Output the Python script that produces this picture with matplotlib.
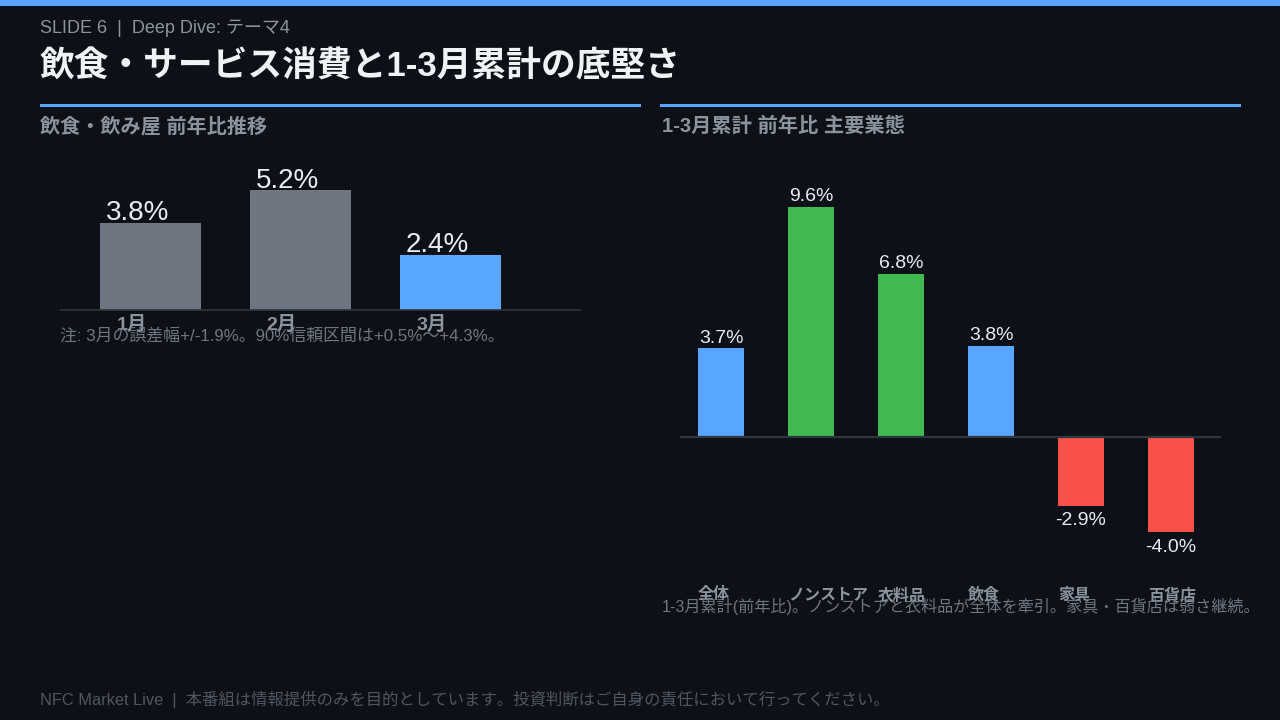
import matplotlib
matplotlib.use("Agg")
import matplotlib.pyplot as plt
from matplotlib.patches import Rectangle
from matplotlib.transforms import offset_copy

FAM = ['Liberation Sans', 'Noto Sans CJK JP', 'DejaVu Sans']
plt.rcParams['font.family'] = FAM

# ---- data ----
left_categories = ['1月', '2月', '3月']
left_values = [3.8, 5.2, 2.4]
left_colors = ['#6e7681', '#6e7681', '#58a6ff']

right_categories = ['全体', 'ノンストア', '衣料品', '飲食', '家具', '百貨店']
right_values = [3.7, 9.6, 6.8, 3.8, -2.9, -4.0]
right_colors = ['#58a6ff', '#3fb950', '#3fb950', '#58a6ff', '#f85149', '#f85149']

header_text = 'SLIDE 6  |  Deep Dive: テーマ4'
title_text = '飲食・サービス消費と1-3月累計の底堅さ'
left_subtitle = '飲食・飲み屋 前年比推移'
right_subtitle = '1-3月累計 前年比 主要業態'
left_note = '注: 3月の誤差幅+/-1.9%。90%信頼区間は+0.5%〜+4.3%。'
right_note = '1-3月累計(前年比)。ノンストアと衣料品が全体を牽引。家具・百貨店は弱さ継続。'
footer_text = 'NFC Market Live  |  本番組は情報提供のみを目的としています。投資判断はご自身の責任において行ってください。'

BG = '#0d1117'
WHITE = '#e6edf3'
GREY = '#8b949e'
DIM = '#6e7681'
FOOT = '#4f5661'
AXIS = '#30363d'
BLUE = '#58a6ff'

W, H = 1280, 720
fig = plt.figure(figsize=(12.8, 7.2), dpi=100, facecolor=BG)


def fx(px):
    return px / W


def fy(py):
    return 1 - py / H


def rect(x0, y0, x1, y1, color):
    fig.add_artist(Rectangle((fx(x0), fy(y1)), fx(x1) - fx(x0), fy(y0) - fy(y1),
                             transform=fig.transFigure, color=color, lw=0))


# top bar and section rules
rect(0, 0, W, 6, BLUE)
rect(40, 104, 641, 107, BLUE)
rect(660, 104, 1241, 107, BLUE)

fig.text(fx(40), fy(28), header_text, color=GREY, fontsize=13, va='center', ha='left')
fig.text(fx(40), fy(66.5), title_text, color='#f0f3f6', fontsize=25, fontweight='bold',
         va='center', ha='left')
fig.text(fx(40), fy(126.5), left_subtitle, color=GREY, fontsize=14.5, fontweight='bold',
         va='center', ha='left')
fig.text(fx(662), fy(126.5), right_subtitle, color=GREY, fontsize=14.6, fontweight='bold',
         va='center', ha='left')
fig.text(fx(40), fy(699), footer_text, color=FOOT, fontsize=11.8, va='center', ha='left')

# ---- left chart ----
L_x0, L_x1 = 60, 580.7
L_top, L_bot, L_base = 150, 330, 310.5
L_scale = 23.1
L_pitch = 150.0
L_center0 = 150.5
axL = fig.add_axes([fx(L_x0), fy(L_bot), fx(L_x1) - fx(L_x0), fy(L_top) - fy(L_bot)])
axL.set_facecolor('none')
axL.set_xlim((L_x0 - L_center0) / L_pitch, (L_x1 - L_center0) / L_pitch)
axL.set_ylim(-(L_bot - L_base) / L_scale, (L_base - L_top) / L_scale)
axL.axis('off')
lw_bar = 101 / L_pitch
xs = list(range(len(left_values)))
axL.bar(xs, left_values, width=lw_bar, color=left_colors, zorder=2)
axL.axhline(0, color=AXIS, lw=1.2, zorder=3)
for i, v in enumerate(left_values):
    tr = offset_copy(axL.transData, fig=fig, x=5.7 * 0.72, y=2.7 * 0.72, units='points')
    axL.text(i - lw_bar / 2, v, f'{v:.1f}%', transform=tr, color=WHITE, fontsize=20,
             ha='left', va='baseline', zorder=4)
fig.text(fx(60), fy(336.5), left_note, color=DIM, fontsize=12.2, va='center', ha='left',
         zorder=1)
tick_y = -(325 - L_base) / L_scale
for i, c in enumerate(left_categories):
    tr = offset_copy(axL.transData, fig=fig, x=-19 * 0.72, y=0, units='points')
    axL.text(i, tick_y, c, transform=tr, color=GREY, fontsize=14, fontweight='bold',
             ha='center', va='center', zorder=5, clip_on=False)

# ---- right chart ----
R_x0, R_x1 = 680, 1220.7
R_top, R_bot, R_base = 170, 570, 436.7
R_scale = 23.95
R_pitch = 90.0
R_center0 = 721
axR = fig.add_axes([fx(R_x0), fy(R_bot), fx(R_x1) - fx(R_x0), fy(R_top) - fy(R_bot)])
axR.set_facecolor('none')
axR.set_xlim((R_x0 - R_center0) / R_pitch, (R_x1 - R_center0) / R_pitch)
axR.set_ylim(-(R_bot - R_base) / R_scale, (R_base - R_top) / R_scale)
axR.axis('off')
rw_bar = 46 / R_pitch
xr = list(range(len(right_values)))
axR.bar(xr, right_values, width=rw_bar, color=right_colors, zorder=2)
axR.axhline(0, color=AXIS, lw=1.6, zorder=3)
for i, v in enumerate(right_values):
    if v >= 0:
        tr = offset_copy(axR.transData, fig=fig, x=0, y=5.5 * 0.72, units='points')
    else:
        tr = offset_copy(axR.transData, fig=fig, x=0, y=-19 * 0.72, units='points')
    axR.text(i, v, f'{v:.1f}%', transform=tr, color=WHITE, fontsize=14,
             ha='center', va='baseline', zorder=4)
cat_y = -(595 - R_base) / R_scale
for i, c in enumerate(right_categories):
    axR.text(i - rw_bar / 2, cat_y, c, color=GREY, fontsize=11.5, fontweight='bold',
             ha='left', va='center', zorder=5, clip_on=False)
fig.text(fx(662), fy(606), right_note, color=DIM, fontsize=11.6, va='center', ha='left',
         zorder=1)

fig.savefig('out.png', dpi=100, facecolor=BG)
